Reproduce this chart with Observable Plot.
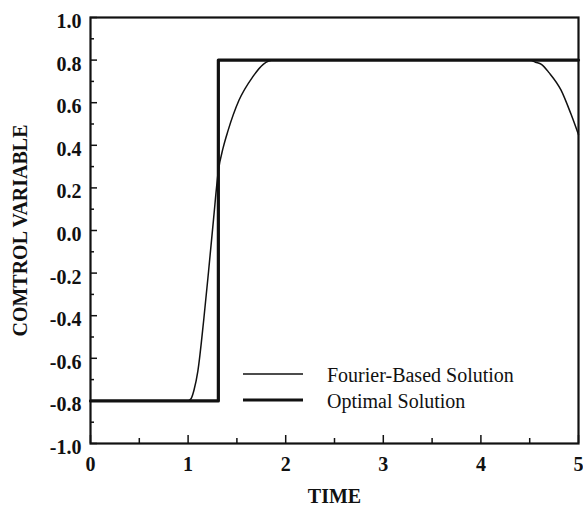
<!DOCTYPE html>
<html>
<head>
<meta charset="utf-8">
<script src="https://cdn.jsdelivr.net/npm/d3@7"></script>
<script src="https://cdn.jsdelivr.net/npm/@observablehq/plot@0.6"></script>
<style>
  html, body { margin: 0; padding: 0; background: white; }
  #wrap { position: relative; width: 583px; height: 509px; }
  g[aria-label="y-axis label"] text { font-weight: bold; font-size: 20px; }
  g[aria-label="x-axis label"] text { font-weight: bold; font-size: 20px; }
  g[aria-label="y-axis tick label"] text, g[aria-label="x-axis tick label"] text { font-weight: bold; font-size: 20px; }
  #legend { position: absolute; left: 0; top: 0; pointer-events: none; }
</style>
</head>
<body>
<div id="wrap"></div>
<script>
// ---- data ----
const optimalT = [0, 1.31, 1.31, 5];
const optimalU = [-0.8, -0.8, 0.8, 0.8];

const fourierT = [0, 0.5, 1.0, 1.03, 1.06, 1.10, 1.16, 1.21, 1.26, 1.31, 1.36, 1.41, 1.52, 1.66, 1.77, 1.88, 2.0, 3.0, 4.0, 4.4, 4.5, 4.56, 4.62, 4.70, 4.82, 4.92, 5.0];
const fourierU = [-0.8, -0.8, -0.8, -0.79, -0.75, -0.66, -0.42, -0.19, 0.05, 0.28, 0.39, 0.47, 0.61, 0.72, 0.78, 0.80, 0.80, 0.80, 0.80, 0.80, 0.80, 0.79, 0.78, 0.74, 0.66, 0.55, 0.45];

const xMajor = [0, 1, 2, 3, 4, 5];
const xMinor = [0.5, 1.5, 2.5, 3.5, 4.5];
const yMajor = [-1.0, -0.8, -0.6, -0.4, -0.2, 0.0, 0.2, 0.4, 0.6, 0.8, 1.0];
const yMinor = [-0.9, -0.7, -0.5, -0.3, -0.1, 0.1, 0.3, 0.5, 0.7, 0.9];

const legendLabels = ["Fourier-Based Solution", "Optimal Solution"];
const xTitle = "TIME";
const yTitle = "COMTROL VARIABLE";

const ink = "#111";

const chart = Plot.plot({
  width: 583,
  height: 509,
  marginLeft: 90,
  marginRight: 5,
  marginTop: 17,
  marginBottom: 66,
  x: { domain: [0, 5] },
  y: { domain: [-1, 1] },
  style: { fontFamily: "Liberation Serif, Times New Roman, serif", fontSize: "18px", color: ink, background: "white" },
  marks: [
    Plot.axisX(xMajor, { tickSize: 0, tickPadding: 13, fontSize: 20, tickFormat: d => String(d), label: xTitle, labelAnchor: "center", labelOffset: 59, labelArrow: "none" }),
    Plot.axisX(xMajor, { tickSize: -8, text: null, label: null, strokeWidth: 1.5 }),
    Plot.axisX(xMinor, { tickSize: -5, text: null, label: null, strokeWidth: 1.5 }),
    Plot.axisY(yMajor, { tickSize: 0, tickPadding: 9, fontSize: 20, dy: 4, tickFormat: d => d.toFixed(1).replace("−", "-"), label: yTitle, labelAnchor: "center", labelOffset: 78, labelArrow: "none" }),
    Plot.axisY(yMajor, { tickSize: -7, text: null, label: null, strokeWidth: 1.5 }),
    Plot.axisY(yMinor, { tickSize: -4, text: null, label: null, strokeWidth: 1.5 }),
    Plot.lineY(fourierU, { x: fourierT, y: fourierU, stroke: ink, strokeWidth: 1.5, curve: "monotone-x" }),
    Plot.lineY(optimalU, { x: optimalT, y: optimalU, stroke: ink, strokeWidth: 3.2 }),
    Plot.frame({ stroke: ink, strokeWidth: 2.2 })
  ]
});

const wrap = document.getElementById("wrap");
wrap.appendChild(chart);

// legend overlay
const legend = d3.select(wrap).append("svg")
  .attr("id", "legend")
  .attr("width", 583).attr("height", 509);
const widths = [1.5, 3.2];
const rowsY = [374, 400];
legendLabels.forEach((lab, i) => {
  legend.append("line")
    .attr("x1", 243).attr("x2", 303)
    .attr("y1", rowsY[i]).attr("y2", rowsY[i])
    .attr("stroke", ink).attr("stroke-width", widths[i]);
  legend.append("text")
    .attr("x", 327).attr("y", rowsY[i] + 3)
    .attr("dominant-baseline", "middle")
    .attr("font-family", "Liberation Serif, Times New Roman, serif")
    .attr("font-size", 20)
    .attr("fill", ink)
    .text(lab);
});
</script>
</body>
</html>
